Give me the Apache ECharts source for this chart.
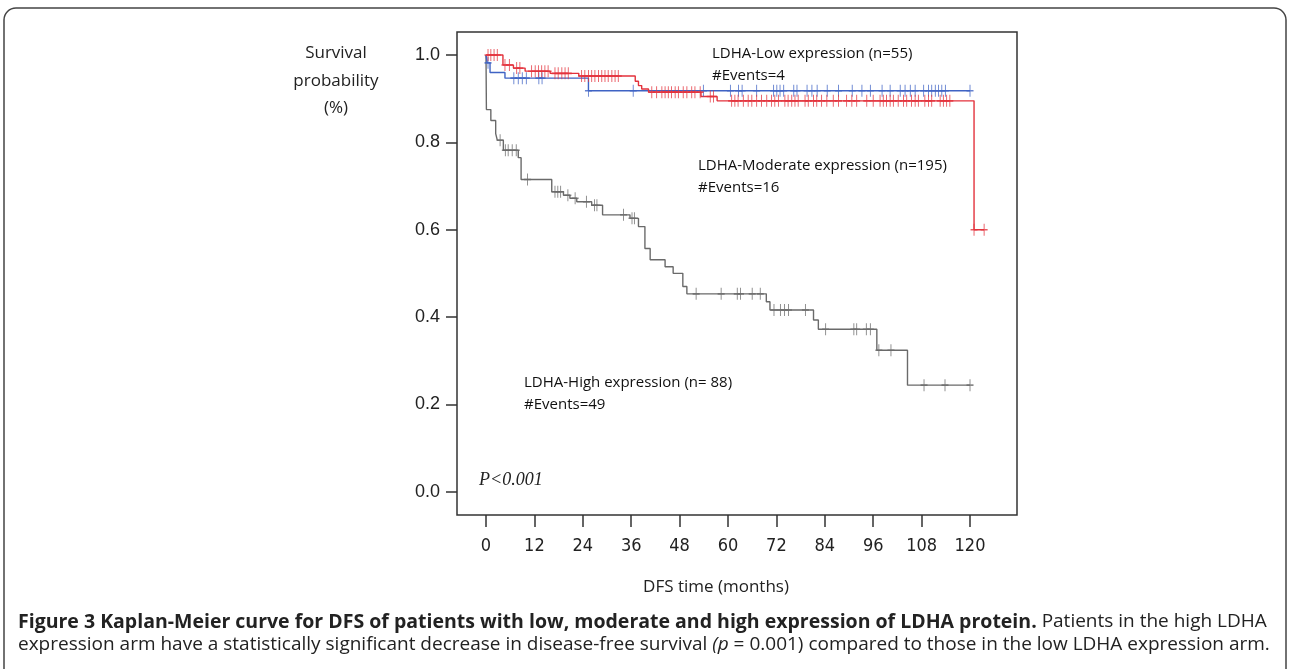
<!DOCTYPE html>
<html>
<head>
<meta charset="utf-8">
<script src="https://cdn.jsdelivr.net/npm/echarts@6/dist/echarts.min.js"></script>
<style>
html,body{margin:0;padding:0;background:#fff;}
#chart{width:1290px;height:669px;}
</style>
</head>
<body>
<div id="chart"></div>
<script>
// ---- data ----
const xTicks = [0, 12, 24, 36, 48, 60, 72, 84, 96, 108, 120];
const yTicks = [0, 0.2, 0.4, 0.6, 0.8, 1.0];

// LDHA-High expression (gray)
const highTimes = [0, 0.1, 1.2, 2.4, 2.8, 4.3, 8.0, 8.7, 16.3, 19.2, 20.8, 22.5, 26.2, 28.9, 35.7, 37.8, 39.4, 40.7, 44.4, 46.4, 48.8, 49.8, 69.5, 70.4, 81.2, 82.4, 96.9, 104.5, 120];
const highSurv  = [1.0, 0.875, 0.85, 0.82, 0.805, 0.782, 0.765, 0.715, 0.687, 0.679, 0.672, 0.664, 0.656, 0.634, 0.626, 0.607, 0.557, 0.531, 0.515, 0.500, 0.470, 0.453, 0.435, 0.416, 0.393, 0.372, 0.324, 0.244, 0.244];
const highCensor = [3.5, 4.8, 5.5, 6.5, 7.5, 10.3, 17.1, 17.8, 18.5, 20.3, 22.1, 24.9, 26.9, 27.5, 34.1, 36.2, 36.8, 52.1, 58.3, 62.3, 63.1, 66.0, 68.0, 71.4, 73.0, 74.0, 75.0, 79.2, 84.2, 91.2, 91.9, 94.3, 95.3, 97.4, 100.4, 108.6, 113.8, 120];

// LDHA-Moderate expression (red)
const modTimes = [0, 4.2, 6.8, 9.7, 15.9, 23.0, 37.0, 37.8, 38.6, 40.3, 53.3, 57.3, 121, 123.5];
const modSurv  = [1.0, 0.977, 0.970, 0.963, 0.958, 0.952, 0.940, 0.930, 0.922, 0.915, 0.905, 0.895, 0.60, 0.60];
const modCensor = [0.5, 1.2, 2.0, 2.8, 4.7, 5.8, 7.6, 8.4, 11.3, 12.2, 13.0, 13.8, 14.6, 15.4, 17.1, 17.9, 18.8, 19.6, 20.4, 23.7, 24.5, 25.4, 26.2, 27.0, 27.9, 28.7, 29.5, 30.3, 31.2, 32.0, 32.8, 41.1, 42.3, 43.6, 44.4, 45.2, 46.0, 46.9, 47.7, 48.9, 49.8, 51.0, 51.8, 53.1, 55.6, 56.4, 60.9, 61.7, 62.5, 63.8, 65.0, 65.9, 67.1, 68.3, 69.6, 70.8, 71.6, 72.5, 74.1, 74.9, 75.8, 76.6, 77.4, 79.1, 79.9, 81.2, 82.0, 83.2, 84.5, 86.1, 87.4, 89.4, 90.7, 91.9, 94.4, 96.0, 97.7, 98.5, 99.3, 100.2, 101.0, 102.2, 103.5, 104.3, 105.5, 106.4, 107.2, 108.8, 109.7, 110.5, 112.6, 113.4, 114.2, 115.0, 121, 123.5];

// LDHA-Low expression (blue)
const lowTimes = [0, 0.3, 1.0, 4.7, 25.4, 120];
const lowSurv  = [1.0, 0.982, 0.960, 0.947, 0.918, 0.918];
const lowCensor = [0.5, 6.9, 8.0, 9.0, 10.0, 13.1, 13.9, 25.4, 36.5, 53.9, 60.6, 62.6, 63.5, 67.1, 71.3, 72.1, 72.9, 73.8, 76.3, 77.1, 79.6, 80.8, 82.1, 84.6, 87.4, 90.8, 93.2, 95.3, 98.2, 100.2, 102.7, 103.9, 105.2, 106.4, 108.5, 109.7, 110.5, 111.4, 112.2, 113.0, 113.9, 120.0];

// ---- helpers ----
function curve(times, surv){ return times.map((t,i)=>[t, surv[i]]); }
function survAt(times, surv, t){ let v = surv[0]; for(let i=0;i<times.length;i++){ if(times[i] <= t) v = surv[i]; } return v; }
function censorPts(times, surv, cens){ return cens.map(t=>[t, survAt(times, surv, t)]); }

const GRAY = '#6a6a6a', RED = '#e3323c', BLUE = '#3f63c4';
const plus = 'path://M5,0 L5,12 M0,6 L10,6';

const chart = echarts.init(document.getElementById('chart'), null, {renderer:'canvas'});
const sansFont = '"Open Sans","Noto Sans",sans-serif';

function lineSeries(name, data, color){
  return {name, type:'line', step:'end', data, showSymbol:false, symbol:'none',
    lineStyle:{color, width:1.4}, z:2, animation:false};
}
function censorSeries(name, data, color){
  return {name, type:'scatter', data, symbol:plus, symbolSize:[7,12],
    itemStyle:{color:'none', borderColor:color, borderWidth:1.2}, z:3, animation:false};
}

chart.setOption({
  animation:false,
  grid:{left:457, top:32, width:560, height:483, show:true, borderColor:'#333', borderWidth:1.5, backgroundColor:'transparent'},
  xAxis:{type:'value', min:-7.19, max:131.65,
    axisLine:{show:false, onZero:false}, splitLine:{show:false},
    axisTick:{show:true, inside:false, customValues:xTicks, length:12, lineStyle:{color:'#333', width:1.5}},
    axisLabel:{customValues:xTicks, margin:22, color:'#222', fontSize:18, fontFamily:'"Liberation Sans Narrow","DejaVu Sans Condensed","Liberation Sans",sans-serif'}
  },
  yAxis:{type:'value', min:-0.0534, max:1.0527,
    axisLine:{show:false, onZero:false}, splitLine:{show:false},
    axisTick:{show:true, inside:false, customValues:yTicks, length:11, lineStyle:{color:'#333', width:1.5}},
    axisLabel:{customValues:yTicks, margin:17, color:'#222', fontSize:18, fontFamily:'"Liberation Sans",Arial,sans-serif',
      formatter:v=>v.toFixed(1)}
  },
  series:[
    lineSeries('High', curve(highTimes, highSurv), GRAY),
    censorSeries('HighC', censorPts(highTimes, highSurv, highCensor), GRAY),
    lineSeries('Low', curve(lowTimes, lowSurv), BLUE),
    censorSeries('LowC', censorPts(lowTimes, lowSurv, lowCensor), BLUE),
    lineSeries('Moderate', curve(modTimes, modSurv), RED),
    censorSeries('ModC', censorPts(modTimes, modSurv, modCensor), RED)
  ],
  graphic:[
    {type:'rect', shape:{x:4, y:8, width:1282, height:700, r:12}, style:{fill:'none', stroke:'#444', lineWidth:1.5}, silent:true},
    // y axis title
    {type:'text', style:{text:'Survival', x:336, y:53, font:'17px '+sansFont, fill:'#222', textAlign:'center', textVerticalAlign:'middle'}},
    {type:'text', style:{text:'probability', x:336, y:81, font:'17px '+sansFont, fill:'#222', textAlign:'center', textVerticalAlign:'middle'}},
    {type:'text', style:{text:'(%)', x:336, y:108, font:'17px '+sansFont, fill:'#222', textAlign:'center', textVerticalAlign:'middle'}},
    // x axis title
    {type:'text', style:{text:'DFS time (months)', x:716, y:587, font:'17px '+sansFont, fill:'#222', textAlign:'center', textVerticalAlign:'middle'}},
    // annotations
    {type:'text', style:{text:'LDHA-Low expression (n=55)', x:712, y:54, font:'15px '+sansFont, fill:'#111', textVerticalAlign:'middle'}},
    {type:'text', style:{text:'#Events=4', x:712, y:76, font:'15px '+sansFont, fill:'#111', textVerticalAlign:'middle'}},
    {type:'text', style:{text:'LDHA-Moderate expression (n=195)', x:698, y:166, font:'15px '+sansFont, fill:'#111', textVerticalAlign:'middle'}},
    {type:'text', style:{text:'#Events=16', x:698, y:188, font:'15px '+sansFont, fill:'#111', textVerticalAlign:'middle'}},
    {type:'text', style:{text:'LDHA-High expression (n= 88)', x:524, y:383, font:'15px '+sansFont, fill:'#111', textVerticalAlign:'middle'}},
    {type:'text', style:{text:'#Events=49', x:524, y:405, font:'15px '+sansFont, fill:'#111', textVerticalAlign:'middle'}},
    {type:'text', style:{text:'P<0.001', x:479, y:480, font:'italic 18px "Liberation Serif","Times New Roman",serif', fill:'#222', textVerticalAlign:'middle'}},
    // caption
    {type:'text', style:{
      text:'{b|Figure 3 Kaplan-Meier curve for DFS of patients with low, moderate and high expression of LDHA protein.} Patients in the high LDHA',
      x:18, y:622, textVerticalAlign:'middle', font:'19px '+sansFont, fill:'#222',
      rich:{b:{fontWeight:'bold', fontSize:19.5, fontFamily:'"Open Sans","Noto Sans",sans-serif', fill:'#222'}}
    }},
    {type:'text', style:{
      text:'expression arm have a statistically significant decrease in disease-free survival {i|(p} = 0.001) compared to those in the low LDHA expression arm.',
      x:18, y:645, textVerticalAlign:'middle', font:'19px '+sansFont, fill:'#222',
      rich:{i:{fontStyle:'italic', fontSize:19, fontFamily:'"Open Sans","Noto Sans",sans-serif', fill:'#222'}}
    }}
  ]
});
</script>
</body>
</html>
